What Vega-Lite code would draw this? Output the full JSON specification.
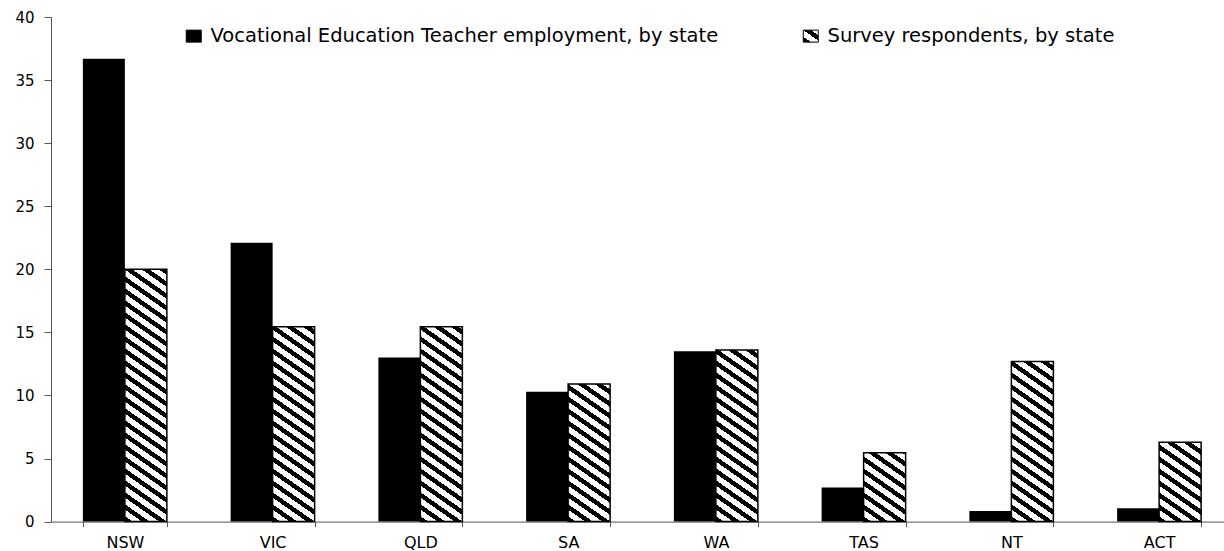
{
  "$schema": "https://vega.github.io/schema/vega-lite/v6.json",
  "width": 1173,
  "height": 504.6,
  "autosize": {"type": "none"},
  "padding": {"left": 51, "top": 17, "right": 0, "bottom": 29.4},
  "background": "white",
  "config": {"view": {"stroke": null}, "font": "DejaVu Sans"},
  "params": [
    {"name": "stripes", "value": [
      {"offset": 0, "color": "#000"}, {"offset": 0.018, "color": "#000"}, {"offset": 0.018, "color": "#fff"}, {"offset": 0.04, "color": "#fff"},
      {"offset": 0.04, "color": "#000"}, {"offset": 0.058, "color": "#000"}, {"offset": 0.058, "color": "#fff"}, {"offset": 0.08, "color": "#fff"},
      {"offset": 0.08, "color": "#000"}, {"offset": 0.098, "color": "#000"}, {"offset": 0.098, "color": "#fff"}, {"offset": 0.12, "color": "#fff"},
      {"offset": 0.12, "color": "#000"}, {"offset": 0.138, "color": "#000"}, {"offset": 0.138, "color": "#fff"}, {"offset": 0.16, "color": "#fff"},
      {"offset": 0.16, "color": "#000"}, {"offset": 0.178, "color": "#000"}, {"offset": 0.178, "color": "#fff"}, {"offset": 0.2, "color": "#fff"},
      {"offset": 0.2, "color": "#000"}, {"offset": 0.218, "color": "#000"}, {"offset": 0.218, "color": "#fff"}, {"offset": 0.24, "color": "#fff"},
      {"offset": 0.24, "color": "#000"}, {"offset": 0.258, "color": "#000"}, {"offset": 0.258, "color": "#fff"}, {"offset": 0.28, "color": "#fff"},
      {"offset": 0.28, "color": "#000"}, {"offset": 0.298, "color": "#000"}, {"offset": 0.298, "color": "#fff"}, {"offset": 0.32, "color": "#fff"},
      {"offset": 0.32, "color": "#000"}, {"offset": 0.338, "color": "#000"}, {"offset": 0.338, "color": "#fff"}, {"offset": 0.36, "color": "#fff"},
      {"offset": 0.36, "color": "#000"}, {"offset": 0.378, "color": "#000"}, {"offset": 0.378, "color": "#fff"}, {"offset": 0.4, "color": "#fff"},
      {"offset": 0.4, "color": "#000"}, {"offset": 0.418, "color": "#000"}, {"offset": 0.418, "color": "#fff"}, {"offset": 0.44, "color": "#fff"},
      {"offset": 0.44, "color": "#000"}, {"offset": 0.458, "color": "#000"}, {"offset": 0.458, "color": "#fff"}, {"offset": 0.48, "color": "#fff"},
      {"offset": 0.48, "color": "#000"}, {"offset": 0.498, "color": "#000"}, {"offset": 0.498, "color": "#fff"}, {"offset": 0.52, "color": "#fff"},
      {"offset": 0.52, "color": "#000"}, {"offset": 0.538, "color": "#000"}, {"offset": 0.538, "color": "#fff"}, {"offset": 0.56, "color": "#fff"},
      {"offset": 0.56, "color": "#000"}, {"offset": 0.578, "color": "#000"}, {"offset": 0.578, "color": "#fff"}, {"offset": 0.6, "color": "#fff"},
      {"offset": 0.6, "color": "#000"}, {"offset": 0.618, "color": "#000"}, {"offset": 0.618, "color": "#fff"}, {"offset": 0.64, "color": "#fff"},
      {"offset": 0.64, "color": "#000"}, {"offset": 0.658, "color": "#000"}, {"offset": 0.658, "color": "#fff"}, {"offset": 0.68, "color": "#fff"},
      {"offset": 0.68, "color": "#000"}, {"offset": 0.698, "color": "#000"}, {"offset": 0.698, "color": "#fff"}, {"offset": 0.72, "color": "#fff"},
      {"offset": 0.72, "color": "#000"}, {"offset": 0.738, "color": "#000"}, {"offset": 0.738, "color": "#fff"}, {"offset": 0.76, "color": "#fff"},
      {"offset": 0.76, "color": "#000"}, {"offset": 0.778, "color": "#000"}, {"offset": 0.778, "color": "#fff"}, {"offset": 0.8, "color": "#fff"},
      {"offset": 0.8, "color": "#000"}, {"offset": 0.818, "color": "#000"}, {"offset": 0.818, "color": "#fff"}, {"offset": 0.84, "color": "#fff"},
      {"offset": 0.84, "color": "#000"}, {"offset": 0.858, "color": "#000"}, {"offset": 0.858, "color": "#fff"}, {"offset": 0.88, "color": "#fff"},
      {"offset": 0.88, "color": "#000"}, {"offset": 0.898, "color": "#000"}, {"offset": 0.898, "color": "#fff"}, {"offset": 0.92, "color": "#fff"},
      {"offset": 0.92, "color": "#000"}, {"offset": 0.938, "color": "#000"}, {"offset": 0.938, "color": "#fff"}, {"offset": 0.96, "color": "#fff"},
      {"offset": 0.96, "color": "#000"}, {"offset": 0.978, "color": "#000"}, {"offset": 0.978, "color": "#fff"}, {"offset": 1, "color": "#fff"}
    ]},
    {"name": "legendHatch", "expr": "{gradient: 'linear', x1: 0, y1: 1, x2: 12.39, y2: -13.16, stops: stripes}"}
  ],
  "data": {"values": [
    {"state": "NSW", "series": "Vocational Education Teacher employment, by state", "value": 36.7},
    {"state": "NSW", "series": "Survey respondents, by state", "value": 20.0},
    {"state": "VIC", "series": "Vocational Education Teacher employment, by state", "value": 22.1},
    {"state": "VIC", "series": "Survey respondents, by state", "value": 15.45},
    {"state": "QLD", "series": "Vocational Education Teacher employment, by state", "value": 13.0},
    {"state": "QLD", "series": "Survey respondents, by state", "value": 15.45},
    {"state": "SA", "series": "Vocational Education Teacher employment, by state", "value": 10.3},
    {"state": "SA", "series": "Survey respondents, by state", "value": 10.9},
    {"state": "WA", "series": "Vocational Education Teacher employment, by state", "value": 13.5},
    {"state": "WA", "series": "Survey respondents, by state", "value": 13.6},
    {"state": "TAS", "series": "Vocational Education Teacher employment, by state", "value": 2.7},
    {"state": "TAS", "series": "Survey respondents, by state", "value": 5.45},
    {"state": "NT", "series": "Vocational Education Teacher employment, by state", "value": 0.85},
    {"state": "NT", "series": "Survey respondents, by state", "value": 12.7},
    {"state": "ACT", "series": "Vocational Education Teacher employment, by state", "value": 1.05},
    {"state": "ACT", "series": "Survey respondents, by state", "value": 6.3}
  ]},
  "encoding": {
    "x": {
      "field": "state", "type": "nominal",
      "sort": ["NSW", "VIC", "QLD", "SA", "WA", "TAS", "NT", "ACT"],
      "scale": {"range": [0, 1182], "paddingInner": 0.4315, "paddingOuter": 0.21575},
      "axis": {
        "title": null, "labelAngle": 0, "tickBand": "extent", "tickSize": 5,
        "labelPadding": 8, "labelFontSize": 16, "labelFont": "DejaVu Sans", "labelColor": "#000",
        "domainColor": "#555", "tickColor": "#555", "grid": false
      }
    },
    "xOffset": {
      "field": "series", "type": "nominal",
      "scale": {"domain": ["Vocational Education Teacher employment, by state", "Survey respondents, by state"], "paddingInner": 0, "paddingOuter": 0}
    },
    "y": {
      "field": "value", "type": "quantitative",
      "scale": {"domain": [0, 40], "nice": false},
      "axis": {
        "title": null, "values": [0, 5, 10, 15, 20, 25, 30, 35, 40], "grid": false,
        "tickSize": 7, "labelPadding": 10, "labelFontSize": 15, "labelFont": "DejaVu Sans",
        "labelColor": "#000", "domainColor": "#555", "tickColor": "#555"
      }
    }
  },
  "layer": [
    {
      "mark": {"type": "bar"},
      "encoding": {
        "fill": {
          "field": "series", "type": "nominal",
          "scale": {"domain": ["Vocational Education Teacher employment, by state", "Survey respondents, by state"], "range": ["#000", {"expr": "legendHatch"}]},
          "legend": {
            "orient": "none", "legendX": 133, "legendY": 9, "direction": "horizontal",
            "title": null, "padding": 0,
            "symbolType": "M-1,-0.8H1V0.8H-1Z", "symbolSize": 225,
            "labelFontSize": 19.5, "labelFont": "DejaVu Sans", "labelColor": "#000",
            "labelOffset": 7, "columnPadding": 82, "labelLimit": 800,
            "encode": {
              "symbols": {
                "update": {
                  "stroke": {"value": "#000"},
                  "strokeWidth": {"value": 1},
                  "opacity": {"value": 1}
                }
              }
            }
          }
        }
      }
    },
    {
      "transform": [{"filter": "datum.series === 'Survey respondents, by state'"}],
      "mark": {
        "type": "bar",
        "stroke": "#000",
        "strokeWidth": 1.5,
        "fill": {"expr": "{gradient: 'linear', x1: 0, y1: 1, x2: 8820 / (864.36 + pow(datum.value * 12.615, 2)), y2: 1 - 300 * datum.value * 12.615 / (864.36 + pow(datum.value * 12.615, 2)), stops: stripes}"}
      }
    }
  ]
}
